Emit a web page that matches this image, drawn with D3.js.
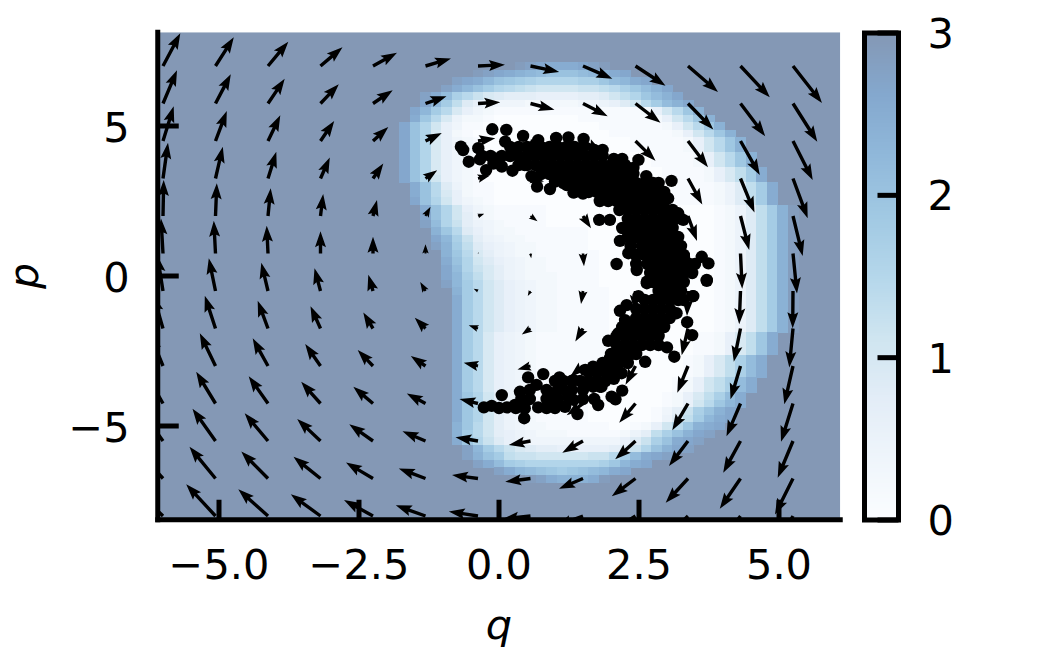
<!DOCTYPE html>
<html>
<head>
<meta charset="utf-8">
<script src="https://cdn.jsdelivr.net/npm/d3@7"></script>
<style>
html,body{margin:0;padding:0;background:#fff}
svg{display:block}
text{font-family:"DejaVu Sans",sans-serif}
</style>
</head>
<body>
<svg id="c" width="1050" height="650"></svg>
<script>
const xTicks=[-5,-2.5,0,2.5,5];
const xTickLabels=["\u22125.0","\u22122.5","0.0","2.5","5.0"];
const yTicks=[-5,0,5];
const yTickLabels=["\u22125","0","5"];
const cbTicks=[0,1,2,3];
const blues=["#f7fbff","#deebf7","#c6dbef","#9ecae1","#6baed6","#4292c6","#2171b5","#08519c","#08306b"];

// Heat field: rows from p=8 downward, letters a..z stand for 0..3; cells outside a row's span are saturated at 3.
const heatLetters="abcdefghijklmnopqrstuvwxyz";
const heatRowIndex=[4,5,6,7,8,9,10,11,12,13,14,15,16,17,18,19,20,21,22,23,24,25,26,27,28,29,30,31,32,33,34,35,36,37,38,39,40,41,42,43,44,45,46,47,48,49,50,51,52,53,54,55,56,57,58,59];
const heatRowStart=[34,30,28,27,25,25,24,24,23,23,23,23,23,23,23,23,24,24,24,25,25,25,26,26,26,27,27,27,27,27,28,28,28,28,28,28,28,28,28,28,28,28,28,28,28,28,28,28,28,28,28,29,29,30,32,35];
const heatRows=[
"yxwvvvwxy",
"yxwvutsrrrstuvw",
"xwvtrqponnnnooqstvw",
"xvtrpnmlkjjjjkklmoqsuw",
"xvsomkihgggffffgghjlnqsuw",
"wtplhfedddcccccddefhjmpsuw",
"wtpmifdcbbbbbbbbbbbbbbcfjmqu",
"vqmieccbaaaaaaaabbbbbbbcfjmqu",
"wrnjfdbbaaaaaaaaaaabbbbbbcfjmqu",
"wrnifcbaaaaaaaaaaaaabbbbbbcfjmqu",
"wrnifdcbaaaaaaaaaaaaaabbbbbcfjmqu",
"wrnifdcbaaaaaaaaaaaaaabbbbbcfjmqu",
"wrnifdcbaaaaaaaaaaaaaaaabbbbcfjmqu",
"wrnifdcbaaaaaaaaaaaaaaaabbbbcfjmqu",
"wrnifdcbaaaaaaaaaaaaaaaaabbbbcfilpv",
"wrnjfdcbaaaaaaaaaaaaaaaaabbbbcfilpv",
"vrmhecbbaaaaaaaaaaaaaaaaabbbbcehlpv",
"vrmifcbbaaaaaaaaaaaaaaaaabbbbcehlpv",
"wrnjfdcbaaaaaaaaaaaaaaaaabbbbcehlpv",
"vrnjfdcbbbbbaaaaaaaaaaaaaaaabcehlpuy",
"wrnjgdcbbbbbaaaaaaaaaaaaaaaabcehlpuy",
"xsnkgedcbbbbaaaaaaaaaaaaaaaabcehlpuy",
"uqmhfdccbbbbbbbaaaaaaaaaaaabcehlpuy",
"wtokgedccbbbbbbaaaaaaaaaaaabcehlpuy",
"xuplhfedccbbbbbaaaaaaaaaaaabcehlpuy",
"uqmigedccbbbbbbaaaaaaaaaaabcehlpuy",
"vrnjhfedccbbbbbaaaaaaaaaaabcehlpuy",
"wsnkigedccbbbbbaaaaaaaaaaabcehlpuy",
"wtoligedcccbbbbaaaaaaaaaaabcehlpuy",
"xtpmjhfedccbbbbaaaaaaaaaaabcehlpuy",
"upmjhfedccbbbbbaaaaaaaaaabcehlpuy",
"vpmjhfedccbbbbbaaaaaaaaaabcehlpuy",
"vpmjhfedccbbbbbaaaaaaaaaabcehlpuy",
"vpmjhfedccbbbbbaaaaaaaaaabcehlpuy",
"vpmjhfedccbbbbbaaaaaaaaaabcehlpuy",
"vpmjhfedccbbbbbaaaaaaaaaabcehlpuy",
"vpmifedcbbbbbbbaaaaaaaabbcfilqv",
"vpmifedcbbbbbbbaaaaaaaabbcfilqv",
"vpmifedcbbbbbbbaaaaaaaabbcfilqv",
"vpmifedcbbbbbbbaaaaaaabcfilosv",
"vpmifedcbbbbbbbaaaaaaabcfilosv",
"vpmifedcbbbbbbbaaaaaaabcfilosv",
"vpmifedcbbbbbbbaaaaaabcfjlosv",
"vpmifedcbbbbbbbaaaaaabcfjlosv",
"vqnjgedcbbbbbaaaaaaabcfilosv",
"vqnjgedcbbbbbaaaaaaabcfjmqtv",
"vqnjgedcbbbbbaaaaaabdgkoruw",
"vqnjgedcbbbbbaaaaaabehlptvw",
"uqmjgedccbbbbbbaabcfjmquvw",
"upmjgfedcccbbbbbcegloruwx",
"vqnkhfedddddddddfhkorvwx",
"xtpmkihggfffffghknruwx",
"xurplkkjjjjjkkmpsvwx",
"xvsponnnnnnnoqtvw",
"xvtsrqpqrstvw",
"yxvuuuvy"
];

// Vector field on a 13 x 13 lattice, rows from p=7 down to p=-8.
const arrowQ=[-6,-5.0625,-4.125,-3.1875,-2.25,-1.3125,-0.375,0.5625,1.5,2.4375,3.375,4.3125,5.25];
const arrowP=[7,5.75,4.5,3.25,2,0.75,-0.5,-1.75,-3,-4.25,-5.5,-6.75,-8];
const arrowU=[
[1.73,1.83,2.03,2.2,2.4,2.55,2.7,2.87,2.93,3,3,2.93,2.9],
[1.4,1.53,1.67,1.83,1.97,2.1,2.23,2.4,2.47,2.5,2.53,2.47,2.43],
[1.07,1.13,1.23,1.37,1.53,1.63,1.73,1.85,1.9,2,2,1.93,1.97],
[0.5,0.73,0.83,0.93,1.03,1.17,1.2,1.35,1.4,1.5,1.43,1.4,1.47],
[0.07,0.13,0.27,0.27,0.4,0.5,0.63,0.7,0.8,0.9,0.9,0.87,0.97],
[-0.2,-0.17,-0.13,0,0,0,0.03,0.07,0.1,0.2,0.3,0.17,0.4],
[-0.55,-0.67,-0.67,-0.6,-0.47,-0.53,-0.43,-0.27,-0.2,-0.1,-0.1,-0.13,-0.03],
[-0.95,-1.07,-1.03,-1,-0.97,-1.07,-0.93,-0.87,-0.77,-0.55,-0.63,-0.67,-0.37],
[-1.3,-1.57,-1.53,-1.53,-1.53,-1.47,-1.43,-1.3,-1.3,-1,-1.07,-1,-0.87],
[-1.7,-1.93,-1.93,-1.93,-1.97,-1.87,-1.85,-1.8,-1.63,-1.63,-1.57,-1.4,-1.2],
[-2,-2.3,-2.33,-2.33,-2.37,-2.3,-2.25,-2.17,-2.07,-2.03,-1.9,-1.73,-1.53],
[-2.4,-2.6,-2.67,-2.7,-2.7,-2.67,-2.6,-2.53,-2.4,-2.37,-2.23,-2.07,-1.8],
[-2.7,-2.93,-2.97,-2.97,-2.9,-2.97,-2.92,-2.8,-2.7,-2.7,-2.5,-2.3,-2]
];
const arrowV=[
[3.27,2.87,2.43,1.87,1.33,0.75,0.13,-0.6,-1.27,-1.97,-2.6,-3.13,-3.7],
[3.33,2.93,2.47,1.93,1.33,0.73,0.13,-0.63,-1.27,-1.93,-2.6,-3.27,-3.83],
[3.47,3,2.57,2,1.4,0.8,0.27,-0.45,-1.1,-1.97,-2.63,-3.4,-3.9],
[3.57,3.17,2.67,2.1,1.5,0.83,0.3,-0.3,-1,-1.8,-2.6,-3.4,-3.97],
[3.6,3.27,2.77,2.2,1.6,0.93,0.22,-0.53,-1.23,-1.9,-2.5,-3.4,-4],
[3.5,3.27,2.77,2.23,1.67,0.93,0.05,-0.47,-1.27,-1.9,-2.5,-3.53,-4],
[3.5,3.27,2.83,2.27,1.63,0.9,0.23,-0.5,-1.3,-2,-2.5,-3.33,-3.73],
[3.3,3.27,2.77,2.23,1.6,1.07,0.33,-0.6,-1.3,-2,-2.67,-3.33,-3.9],
[3.2,3.27,2.77,2.2,1.6,1,0.32,-0.35,-1.1,-1.87,-2.67,-3.33,-3.83],
[3,3.17,2.73,2.17,1.67,1,0.46,-0.2,-1.17,-1.93,-2.67,-3.27,-3.83],
[2.8,3.23,2.77,2.2,1.67,0.97,0.38,-0.4,-1.17,-1.83,-2.5,-3.17,-3.67],
[2.7,3.17,2.7,2.17,1.6,1,0.36,-0.33,-1.03,-1.77,-2.43,-3.03,-3.6],
[2.6,3.17,2.67,2.17,1.6,1.07,0.46,-0.3,-1,-1.7,-2.4,-3,-3.5]
];

// Scatter of states (q, p): the individually visible dots.
const pointsQ=[-0.12,0.13,0.43,-0.68,-0.64,-0.54,-0.34,-0.23,0.24,0.58,0.68,0.91,0.70,1.02,1.24,1.51,0.11,-0.37,-0.07,0.29,0.46,1.21,1.33,1.49,2.49,2.63,3.08,3.02,3.2,3.29,1.79,1.98,2.16,2.31,2.1,2.46,2.64,3.62,3.74,3.71,3.46,
3.71,3.47,3.17,3.36,3.45,3.0,3.13,2.61,2.05,2.2,2.08,1.77,1.4,1.18,0.79,0.52,1.08,0.375,0.05,-0.27,-0.13,0.14,0.45,0.7,0.88,2.16,2.28,2.49,2.64,1.95,2.13,2.25,2.01,2.31,1.54,1.68,1.33,1.8,
0.286,0.46,0.67,0.91,1.09,1.21,1.33,1.54,1.68,1.83,2.01,2.19,1.98,2.16,0.2,0.35,0.5,-0.1,0.05,
1.0,1.15,1.35,1.5,1.8,1.7,1.85,2.05,2.2,2.3,2.4];
const pointsP=[4.89,4.87,4.67,4.31,4.2,3.81,3.89,3.53,3.51,3.33,2.98,2.9,4.53,4.6,4.62,4.57,4.48,4.26,3.92,4.2,3.7,3.03,2.78,2.81,3.87,3.33,3.17,2.59,2.09,1.87,1.87,1.87,1.17,0.76,0.4,0.2,-0.19,0.64,0.42,-0.13,-0.67,
-0.16,-0.67,-1.24,-1.54,-1.97,-2.38,-2.69,-2.86,-3.43,-3.82,-4.11,-4.3,-4.6,-4.36,-3.27,-3.38,-3.38,-3.86,-3.97,-4.38,-4.33,-4.38,-4.74,-4.38,-4.3,-1.16,-0.97,-0.67,-0.24,-2.16,-1.91,-1.47,-2.71,-2.69,-3.13,-3.02,-3.47,-3.69,
-4.3,-4.41,-3.63,-3.97,-3.69,-3.86,-4.13,-3.58,-3.69,-3.69,-4.02,-3.24,-2.74,-2.58,4.3,4.3,4.3,3.75,3.65,
3.15,3.1,2.8,2.75,2.5,4.2,4.2,3.9,3.9,3.6,3.6];
// The dense part of the crescent, read band by band: p level and the q of dots on it.
const bandP=[4.3,4.0,3.7,3.4,3.1,2.8,2.5,2.2,1.9,1.6,1.3,1.0,0.7,0.4,0.1,-0.2,-0.5,-0.8,-1.1,-1.4,-1.7,-2,-2.3,-2.6,-2.9,-3.2,-3.5,-3.8,-4.1,-4.4];
const bandQ=[
[0.6,0.75,0.9,1.05,1.2,1.35,1.5],
[-0.3,-0.15,0.05,0.2,0.35,0.5,0.65,0.8,0.95,1.1,1.25,1.4,1.55,1.7,1.85],
[0.35,0.5,0.65,0.8,0.95,1.1,1.25,1.4,1.55,1.7,1.85,2,2.15,2.25],
[0.75,0.9,1.05,1.2,1.35,1.5,1.65,1.8,1.95,2.1,2.25,2.4],
[1.25,1.4,1.55,1.7,1.85,2,2.15,2.3,2.45,2.6,2.75,2.85],
[1.6,1.75,1.9,2.05,2.2,2.35,2.5,2.65,2.8,2.95],
[1.95,2.1,2.25,2.4,2.55,2.7,2.85,2.95],
[2.15,2.3,2.45,2.6,2.75,2.9,3,3.1],
[2.3,2.45,2.6,2.75,2.9,3.05,3.15],
[2.2,2.35,2.5,2.65,2.8,2.95,3.1],
[2.3,2.45,2.6,2.75,2.9,3.05,3.2],
[2.35,2.55,2.7,2.85,3,3.15,3.25],
[2.45,2.6,2.75,2.9,3.05,3.2,3.3],
[2.45,2.65,2.8,2.95,3.1,3.25,3.4,3.5],
[2.7,2.85,3,3.15,3.3,3.45],
[2.75,2.9,3.05,3.2,3.3],
[2.85,3,3.15,3.25],
[2.6,2.75,2.9,3.05,3.2,3.3],
[2.45,2.6,2.75,2.9,3.05],
[2.45,2.6,2.75,2.9,3.05],
[2.2,2.35,2.5,2.65,2.8,2.95],
[2.1,2.25,2.4,2.55,2.7,2.85],
[2.1,2.25,2.4,2.55,2.7,2.85],
[2,2.15,2.3,2.45],
[1.85,2,2.15,2.3],
[1.6,1.75,1.9,2.05],
[1,1.15,1.3,1.45,1.6,1.75,1.9],
[0.55,0.85,1.05,1.3,1.5],
[0.4,0.55,0.85,1.05,1.25,1.5,1.7],
[0,0.3,0.85,1]
];

const svg=d3.select("#c");
const x=d3.scaleLinear().domain([-6.09375,6.09375]).range([157.75,840.25]);
const y=d3.scaleLinear().domain([-8.125,8.125]).range([519.75,32.25]);
const cb=d3.scaleLinear().domain([0,3]).range([520,33]);
const letterValue=d3.scaleLinear().domain([0,25]).range([0,3]);
const arrowScale=d3.scaleLinear().domain([0,1]).range([0,10]);

const overWhite=c=>{const r=d3.rgb(c);return d3.rgb((r.r+255)/2,(r.g+255)/2,(r.b+255)/2).formatHex();};
const color=d3.scaleLinear().domain(blues.map((_,i)=>3*i/8)).range(blues.map(overWhite));

svg.append("defs").append("clipPath").attr("id","plot").append("rect")
  .attr("x",x.range()[0]).attr("y",y.range()[1])
  .attr("width",x.range()[1]-x.range()[0]).attr("height",y.range()[0]-y.range()[1]);

const plot=svg.append("g").attr("clip-path","url(#plot)");
plot.append("rect").attr("x",x.range()[0]).attr("y",y.range()[1])
  .attr("width",x.range()[1]-x.range()[0]).attr("height",y.range()[0]-y.range()[1])
  .attr("fill",color(3));

const dq=0.1875,dp=0.25;
const cells=[];
heatRows.forEach((row,r)=>{
  [...row].forEach((ch,k)=>{
    cells.push({q:-6+dq*(heatRowStart[r]+k),p:8-dp*heatRowIndex[r],v:letterValue(heatLetters.indexOf(ch))});
  });
});
plot.append("g").attr("shape-rendering","crispEdges").selectAll("rect").data(cells).join("rect")
  .attr("x",d=>x(d.q-dq/2)).attr("y",d=>y(d.p+dp/2))
  .attr("width",x(dq)-x(0)+0.5).attr("height",y(0)-y(dp)+0.5)
  .attr("fill",d=>color(d.v));

// Scatter
const dots=pointsQ.map((q,i)=>({q,p:pointsP[i]}));
bandP.forEach((p,i)=>bandQ[i].forEach(q=>dots.push({q,p})));
plot.append("g").selectAll("circle").data(dots).join("circle")
  .attr("cx",d=>x(d.q)).attr("cy",d=>y(d.p)).attr("r",6.2).attr("fill","#000");

// Quiver
const W=3.4,HW=11,HL=16,HA=14;
function arrowPath(x0,y0,dx,dy){
  const L=Math.hypot(dx,dy);
  const ux=L?dx/L:1,uy=L?dy/L:0;
  const s=Math.max(L,1.5)<HL?Math.max(L,1.5)/HL:1;
  const len=Math.max(L,1.5);
  const pt=(a,b)=>[x0+ux*a-uy*b,y0+uy*a+ux*b];
  const w=W*s/2,hw=HW*s/2,hl=HL*s,ha=HA*s;
  const pts=[pt(0,-w),pt(len-ha,-w),pt(len-hl,-hw),pt(len,0),pt(len-hl,hw),pt(len-ha,w),pt(0,w)];
  return "M"+pts.map(p=>p[0].toFixed(2)+","+p[1].toFixed(2)).join("L")+"Z";
}
const arrows=[];
arrowP.forEach((p,r)=>arrowQ.forEach((q,c)=>arrows.push({q,p,u:arrowU[r][c],v:arrowV[r][c]})));
plot.append("g").selectAll("path").data(arrows).join("path")
  .attr("d",d=>arrowPath(x(d.q),y(d.p),arrowScale(d.u),-arrowScale(d.v)))
  .attr("fill","#000");

// Axes
const FS=41.5;
const xAxis=d3.axisBottom(x).tickValues(xTicks).tickFormat((d,i)=>xTickLabels[i])
  .tickSizeInner(-20).tickSizeOuter(0).tickPadding(30).offset(0);
const yAxis=d3.axisLeft(y).tickValues(yTicks).tickFormat((d,i)=>yTickLabels[i])
  .tickSizeInner(-21).tickSizeOuter(0).tickPadding(28).offset(0);
const gx=svg.append("g").attr("transform","translate(0,"+y.range()[0]+")").call(xAxis);
const gy=svg.append("g").attr("transform","translate("+x.range()[0]+",0)").call(yAxis);
[gx,gy].forEach(g=>{
  g.selectAll("line").attr("stroke","#000").attr("stroke-width",5);
  g.select(".domain").attr("stroke","#000").attr("stroke-width",5).attr("stroke-linecap","square");
  g.selectAll("text").attr("fill","#000").attr("font-size",FS).attr("font-family","DejaVu Sans");
});
gy.selectAll("text").attr("dy","0.38em");

svg.append("text").attr("x",499).attr("y",638.5).attr("text-anchor","middle")
  .attr("font-size",FS).attr("font-style","italic").attr("fill","#000").text("q");
svg.append("text").attr("transform","translate(38,276) rotate(-90)").attr("text-anchor","middle")
  .attr("font-size",40.5).attr("font-style","italic").attr("fill","#000").text("p");

// Colorbar
const cbX0=864.5,cbX1=898.5;
const levels=d3.range(0,256).map(i=>i*3/256);
svg.append("g").attr("shape-rendering","crispEdges").selectAll("rect").data(levels).join("rect")
  .attr("x",cbX0).attr("width",cbX1-cbX0)
  .attr("y",d=>cb(d+3/256)).attr("height",cb(0)-cb(3/256)+1)
  .attr("fill",d=>color(d+1.5/256));
const cAxis=d3.axisRight(cb).tickValues(cbTicks).tickFormat(d3.format("d"))
  .tickSizeInner(-21).tickSizeOuter(0).tickPadding(29).offset(0);
const gc=svg.append("g").attr("transform","translate("+cbX1+",0)").call(cAxis);
gc.select(".domain").remove();
gc.selectAll("line").attr("stroke","#000").attr("stroke-width",5);
gc.selectAll("text").attr("fill","#000").attr("font-size",FS).attr("font-family","DejaVu Sans").attr("dy","0.36em");
svg.append("rect").attr("x",cbX0).attr("y",cb(3)).attr("width",cbX1-cbX0).attr("height",cb(0)-cb(3))
  .attr("fill","none").attr("stroke","#000").attr("stroke-width",5);
</script>
</body>
</html>
